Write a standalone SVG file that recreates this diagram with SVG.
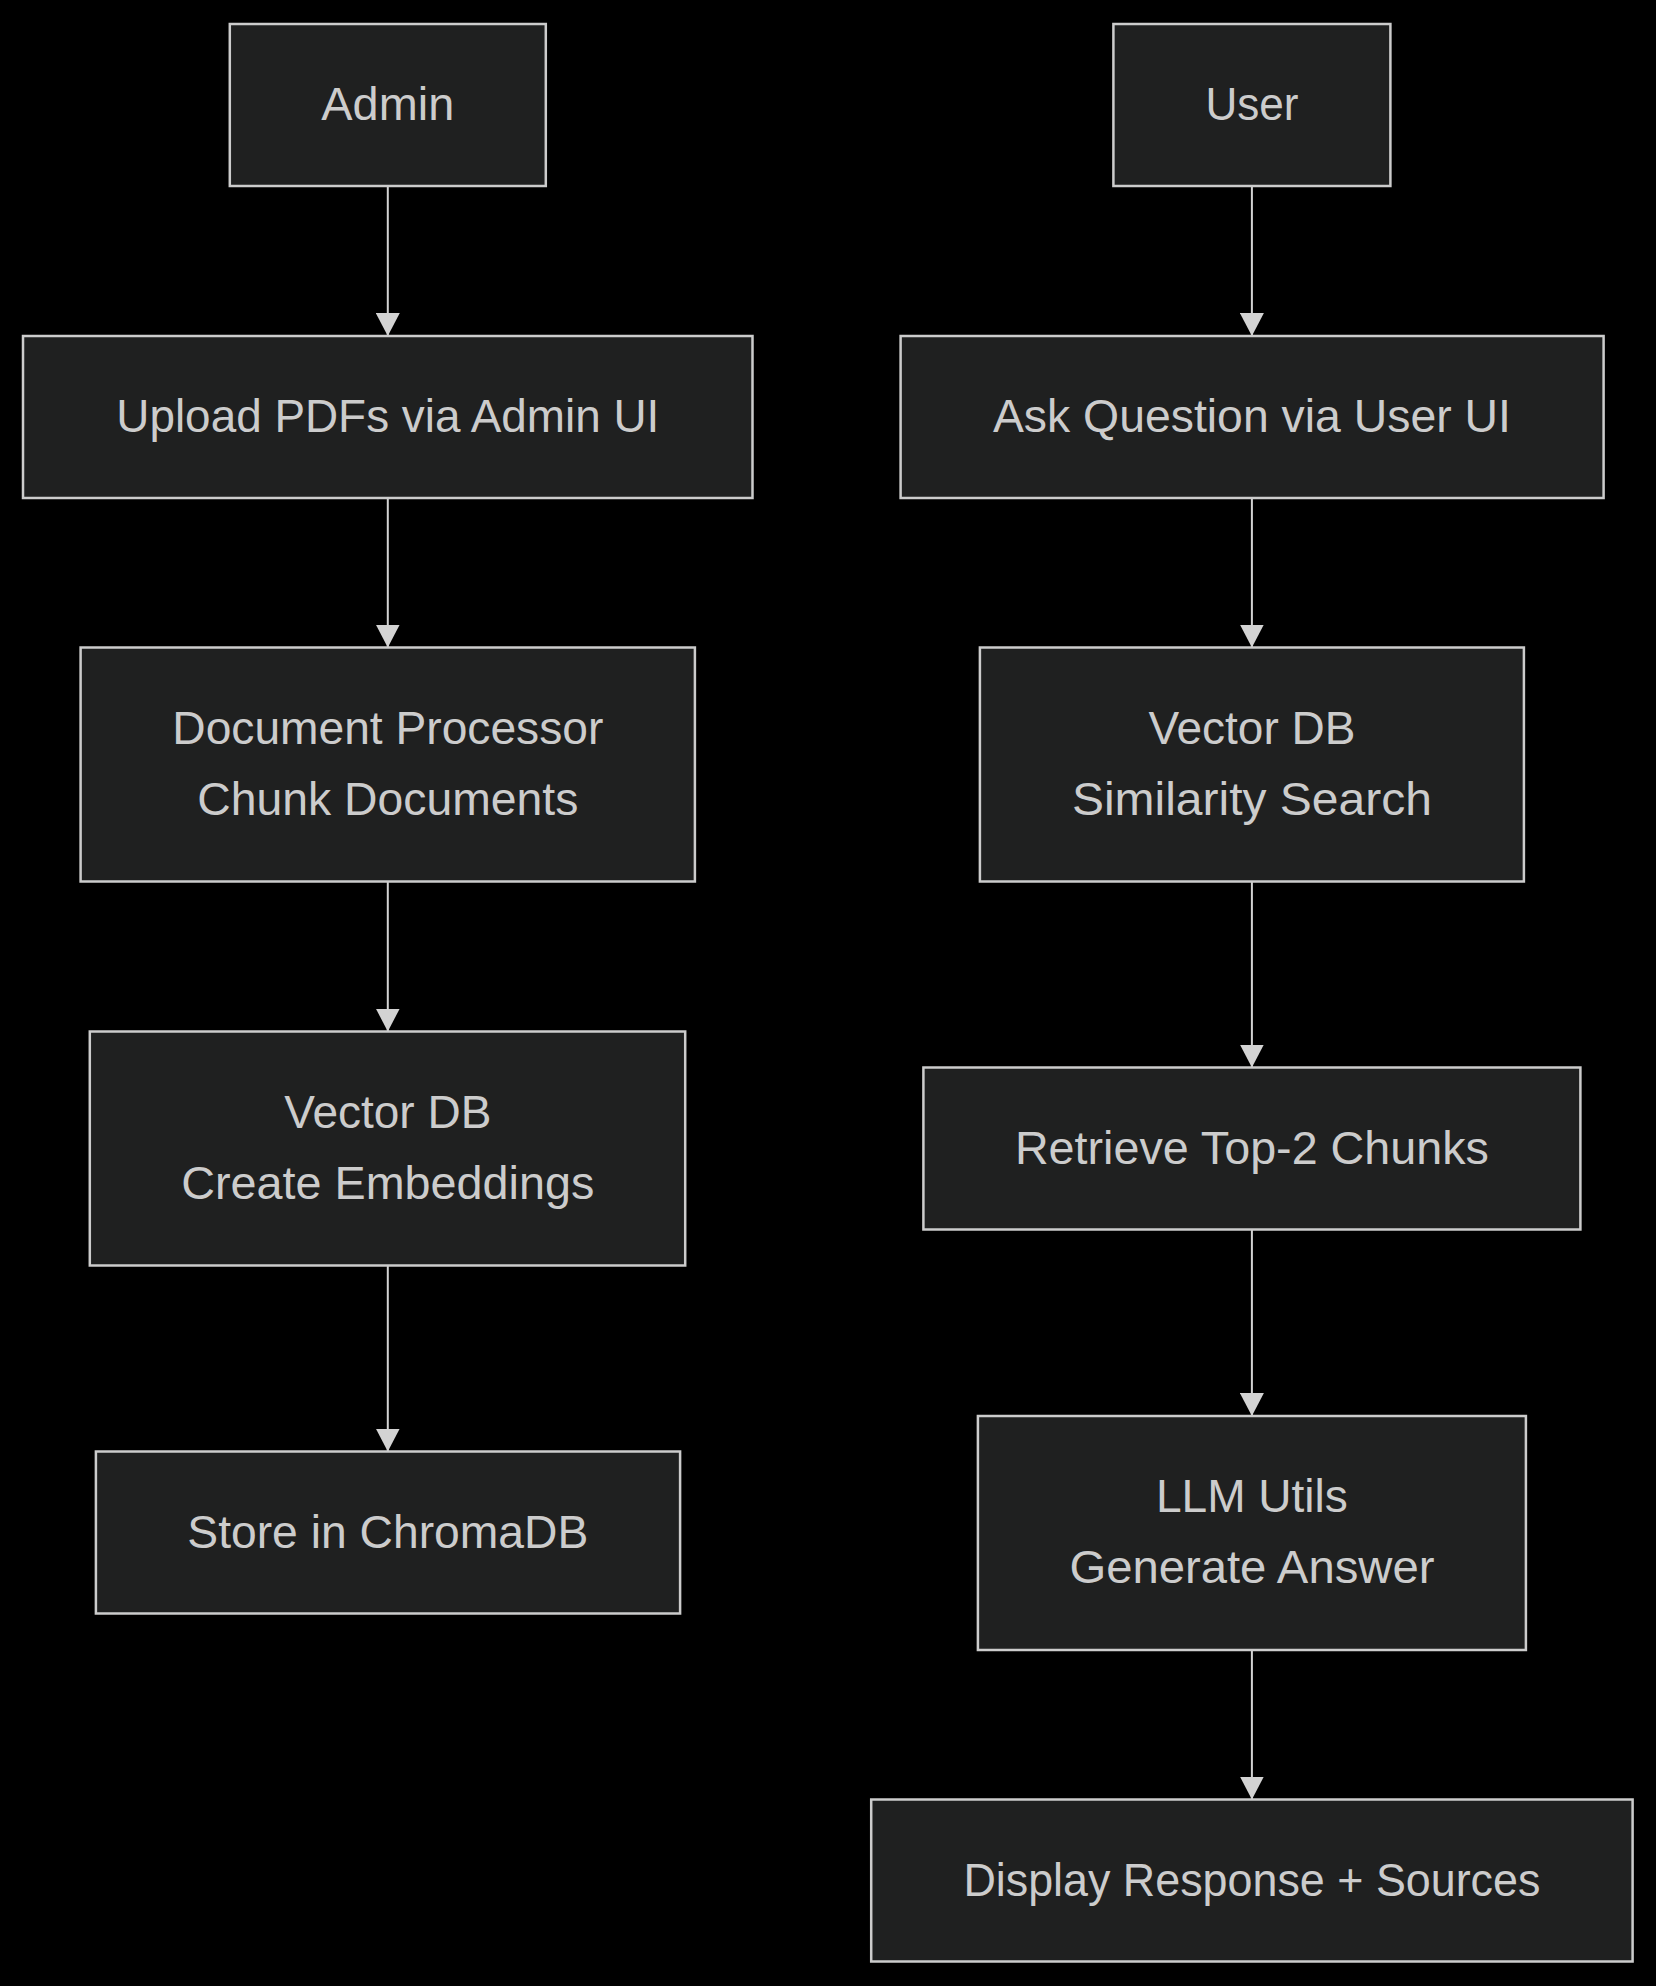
<svg xmlns="http://www.w3.org/2000/svg" width="1656" height="1986" viewBox="0 0 1656 1986">
<style>
.node rect{fill:#1f2020;stroke:#cccccc;stroke-width:2.5}
.node text{fill:#cccccc;font-family:"Trebuchet MS","Liberation Sans",Arial,sans-serif;font-size:46px;text-anchor:middle}
.edge{stroke:#d3d3d3;stroke-width:2;fill:none;marker-end:url(#arrow)}
</style>
<defs>
<marker id="arrow" viewBox="0 0 10 10" refX="10" refY="5" markerUnits="userSpaceOnUse" markerWidth="23" markerHeight="24" orient="auto" preserveAspectRatio="none">
<path d="M0,0 L10,5 L0,10 z" fill="#d3d3d3"/>
</marker>
</defs>
<rect x="0" y="0" width="1656" height="1986" fill="#000000"/>
<g id="connectors">
<line class="edge" x1="387.8" y1="186" x2="387.8" y2="336"/>
<line class="edge" x1="387.8" y1="498" x2="387.8" y2="647.5"/>
<line class="edge" x1="387.8" y1="881.5" x2="387.8" y2="1031.5"/>
<line class="edge" x1="387.8" y1="1265.5" x2="387.8" y2="1451.5"/>
<line class="edge" x1="1251.9" y1="186" x2="1251.9" y2="336"/>
<line class="edge" x1="1251.9" y1="498" x2="1251.9" y2="647.5"/>
<line class="edge" x1="1251.9" y1="881.5" x2="1251.9" y2="1067.5"/>
<line class="edge" x1="1251.9" y1="1229.5" x2="1251.9" y2="1416"/>
<line class="edge" x1="1251.9" y1="1650" x2="1251.9" y2="1799.5"/>
</g>
<g id="admin" class="node"><rect x="229.8" y="24" width="316" height="162"/><text x="387.8" y="120" textLength="133" lengthAdjust="spacingAndGlyphs">Admin</text></g>
<g id="upload" class="node"><rect x="23" y="336" width="729.5" height="162"/><text x="387.8" y="432" textLength="543" lengthAdjust="spacingAndGlyphs">Upload PDFs via Admin UI</text></g>
<g id="docproc" class="node"><rect x="80.6" y="647.5" width="614.3" height="234"/><text x="387.8" y="743.5" textLength="431" lengthAdjust="spacingAndGlyphs">Document Processor</text><text x="387.8" y="814.5" textLength="381" lengthAdjust="spacingAndGlyphs">Chunk Documents</text></g>
<g id="vcreate" class="node"><rect x="89.8" y="1031.5" width="595.4" height="234"/><text x="387.8" y="1128" textLength="207" lengthAdjust="spacingAndGlyphs">Vector DB</text><text x="387.8" y="1199" textLength="413" lengthAdjust="spacingAndGlyphs">Create Embeddings</text></g>
<g id="store" class="node"><rect x="95.9" y="1451.5" width="584.2" height="162"/><text x="387.8" y="1548" textLength="401" lengthAdjust="spacingAndGlyphs">Store in ChromaDB</text></g>
<g id="user" class="node"><rect x="1113.4" y="24" width="277" height="162"/><text x="1251.9" y="120" textLength="93" lengthAdjust="spacingAndGlyphs">User</text></g>
<g id="ask" class="node"><rect x="900.6" y="336" width="703" height="162"/><text x="1251.9" y="432" textLength="518" lengthAdjust="spacingAndGlyphs">Ask Question via User UI</text></g>
<g id="vsearch" class="node"><rect x="979.9" y="647.5" width="544" height="234"/><text x="1251.9" y="743.5" textLength="207" lengthAdjust="spacingAndGlyphs">Vector DB</text><text x="1251.9" y="814.5" textLength="360" lengthAdjust="spacingAndGlyphs">Similarity Search</text></g>
<g id="retrieve" class="node"><rect x="923.4" y="1067.5" width="657" height="162"/><text x="1251.9" y="1164" textLength="474" lengthAdjust="spacingAndGlyphs">Retrieve Top-2 Chunks</text></g>
<g id="llm" class="node"><rect x="977.9" y="1416" width="548" height="234"/><text x="1251.9" y="1512" textLength="192" lengthAdjust="spacingAndGlyphs">LLM Utils</text><text x="1251.9" y="1583" textLength="365" lengthAdjust="spacingAndGlyphs">Generate Answer</text></g>
<g id="display" class="node"><rect x="871.2" y="1799.5" width="761.4" height="162"/><text x="1251.9" y="1896" textLength="577" lengthAdjust="spacingAndGlyphs">Display Response + Sources</text></g>
</svg>
